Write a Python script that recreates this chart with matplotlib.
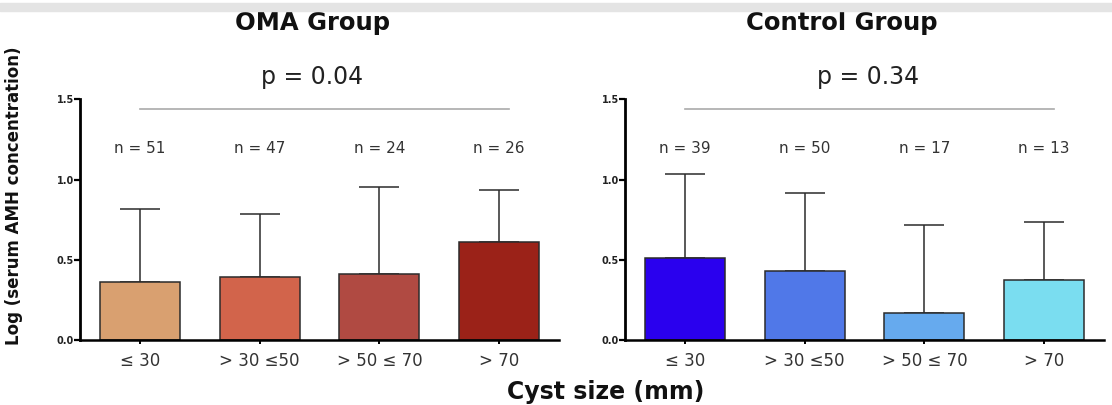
import matplotlib
matplotlib.use("Agg")
import matplotlib.pyplot as plt
import matplotlib.transforms as mtransforms
from matplotlib.patches import Rectangle

plt.rcParams['font.family'] = ['DejaVu Sans']

# ---- data ----
categories = ["\u2264 30", "> 30 \u226450", "> 50 \u2264 70", "> 70"]
oma_means = [0.363, 0.394, 0.409, 0.608]
oma_sd = [0.452, 0.394, 0.547, 0.328]
oma_n = [51, 47, 24, 26]
oma_p = "p = 0.04"
ctrl_means = [0.508, 0.430, 0.171, 0.376]
ctrl_sd = [0.525, 0.487, 0.548, 0.357]
ctrl_n = [39, 50, 17, 13]
ctrl_p = "p = 0.34"
oma_colors = ["#D9A070", "#D2644B", "#B04A42", "#9B2218"]
ctrl_colors = ["#2A00EE", "#5078E8", "#66AAEE", "#7ADDF0"]
yticks = [0.0, 0.5, 1.0, 1.5]

W, H = 1112, 405
fig = plt.figure(figsize=(W / 100, H / 100), dpi=100)


def fx(px):
    return px / W


def fy(py):
    return 1 - py / H


# grey band at top
fig.patches.append(Rectangle((0, fy(10.7)), 1, (10.7 - 3.3) / H,
                             transform=fig.transFigure, color="#E4E4E4", zorder=0))

ax_w = 479 / W
ax_b = fy(340)
ax_h = (340 - 99.3) / H
axL = fig.add_axes([fx(80), ax_b, ax_w, ax_h])
axR = fig.add_axes([fx(625), ax_b, ax_w, ax_h])


def draw(ax, means, sd, ns, colors, ptxt, ptx, title, title_frac):
    x = list(range(len(categories)))
    ax.bar(x, means, width=0.67, color=colors, edgecolor="#2b2b2b",
           linewidth=1.1, zorder=2)
    ax.errorbar(x, means, yerr=[[0] * len(sd), sd], fmt="none",
                ecolor="#2b2b2b", elinewidth=1.1, capsize=14.5,
                capthick=1.1, zorder=1)
    ax.set_xlim(-0.5, 3.5)
    ax.set_ylim(0, 1.5)
    ax.set_yticks(yticks)
    ax.set_yticklabels([f"{v:.1f}" for v in yticks], fontsize=7,
                       fontweight="bold", color="#222222")
    ax.set_xticks(x)
    ax.set_xticklabels(categories, fontsize=12, color="#333333")
    ax.tick_params(axis="y", length=4, width=1.6, pad=0.5)
    ax.tick_params(axis="x", length=3, width=1.4, pad=6)
    for s in ["top", "right"]:
        ax.spines[s].set_visible(False)
    ax.spines["left"].set_linewidth(2.0)
    ax.spines["bottom"].set_linewidth(1.8)
    for xi, n in zip(x, ns):
        ax.text(xi, 1.194, f"n = {n}", ha="center", va="center",
                fontsize=11, color="#333333")
    ax.plot([0.0, 3.08], [1.437, 1.437], color="#AAAAAA", lw=1.2,
            clip_on=False)
    ax.text(ptx, 1.639, ptxt, ha="center", va="center", fontsize=17,
            color="#222222", clip_on=False)
    trans = mtransforms.blended_transform_factory(ax.transAxes, fig.transFigure)
    ax.text(title_frac, fy(23), title, transform=trans,
            ha="center", va="center", fontsize=17.5, fontweight="bold",
            color="#111111")


draw(axL, oma_means, oma_sd, oma_n, oma_colors, oma_p, 1.44, "OMA Group", 0.485)
draw(axR, ctrl_means, ctrl_sd, ctrl_n, ctrl_colors, ctrl_p, 1.53, "Control Group", 0.453)

fig.text(fx(14), fy(196), "Log (serum AMH concentration)", rotation=90,
         ha="center", va="center", fontsize=12, fontweight="bold", color="#111111")
fig.text(fx(606), fy(392), "Cyst size (mm)", ha="center", va="center",
         fontsize=17, fontweight="bold", color="#111111")

fig.savefig("out.png", dpi=100)
